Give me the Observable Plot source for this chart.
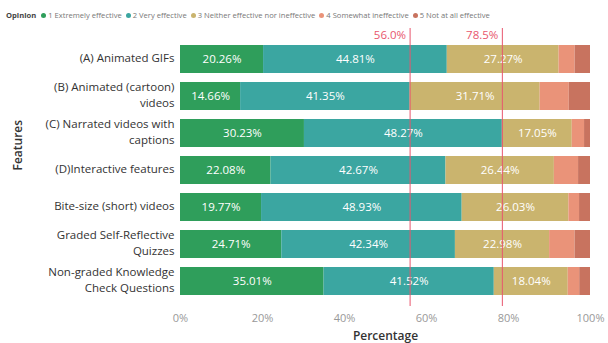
<!DOCTYPE html>
<html>
<head>
<meta charset="utf-8">
<script src="https://cdn.jsdelivr.net/npm/d3@7"></script>
<script src="https://cdn.jsdelivr.net/npm/@observablehq/plot@0.6"></script>
<style>
  body { margin: 0; background: #fff; }
  #wrap { position: relative; width: 608px; height: 343px; font-family: "Open Sans", "Noto Sans", sans-serif; }
  #legend { position: absolute; top: 10px; left: 6px; font-size: 7.6px; color: #777; display: flex; align-items: center; white-space: nowrap; }
  #legend b { color: #444; margin-right: 5px; }
  #legend .item { display: flex; align-items: center; margin-right: 4px; }
  #legend .dot { width: 5px; height: 5px; border-radius: 50%; display: inline-block; margin-right: 2px; }
</style>
</head>
<body>
<div id="wrap"><div id="legend"></div></div>
<script>
const features = [
  "(A) Animated GIFs",
  "(B) Animated (cartoon)\nvideos",
  "(C) Narrated videos with\ncaptions",
  "(D)Interactive features",
  "Bite-size (short) videos",
  "Graded Self-Reflective\nQuizzes",
  "Non-graded Knowledge\nCheck Questions"
];
const opinions = ["1 Extremely effective", "2 Very effective", "3 Neither effective nor ineffective", "4 Somewhat ineffective", "5 Not at all effective"];
const colors = ["#2f9e5b", "#3ba6a1", "#cab46e", "#ea9379", "#c8735f"];
const extremely = [20.26, 14.66, 30.23, 22.08, 19.77, 24.71, 35.01];
const very      = [44.81, 41.35, 48.27, 42.67, 48.93, 42.34, 41.52];
const neither   = [27.27, 31.71, 17.05, 26.44, 26.03, 22.98, 18.04];
const somewhat  = [3.90, 7.10, 3.00, 5.90, 2.60, 6.20, 2.80];
const notAtAll  = [3.76, 5.18, 1.45, 2.91, 2.67, 3.77, 2.63];
const refValues = [56.0, 78.5];
const refLabels = ["56.0%", "78.5%"];
const xTicks = [0, 20, 40, 60, 80, 100];

const series = [extremely, very, neither, somewhat, notAtAll];
const rows = [];
features.forEach((f, i) => {
  series.forEach((s, k) => rows.push({feature: f, opinion: opinions[k], k, value: s[i]}));
});

const legend = document.getElementById("legend");
legend.innerHTML = "<b>Opinion</b>" + opinions.map((o, k) =>
  `<span class="item"><span class="dot" style="background:${colors[k]}"></span>${o}</span>`).join("");

const chart = Plot.plot({
  width: 608,
  height: 343,
  marginLeft: 180,
  marginRight: 18,
  marginTop: 41,
  marginBottom: 44,
  style: {fontFamily: "'Open Sans', 'Noto Sans', sans-serif", background: "transparent"},
  x: {domain: [0, 100]},
  y: {domain: features, paddingInner: 0.24, paddingOuter: 0.1},
  color: {domain: opinions, range: colors},
  marks: [
    Plot.barX(rows, Plot.stackX({x: "value", y: "feature", fill: "opinion", order: opinions})),
    Plot.text(rows.filter(d => d.k < 3), Plot.stackX({x: "value", y: "feature", z: "opinion", order: opinions, text: d => d.value.toFixed(2) + "%", fill: "white", fontSize: 11.5})),
    Plot.ruleX(refValues, {stroke: "#e8566d", strokeWidth: 1, insetTop: -13, insetBottom: -7}),
    Plot.text(refValues, {x: d => d, text: (d, i) => refLabels[i], frameAnchor: "top", lineAnchor: "bottom", textAnchor: "end", dx: -4, dy: -3, fill: "#e8566d", fontSize: 11.5}),
    Plot.axisY({tickSize: 0, tickPadding: 6, dy: -2.5, fontSize: 11.5, lineHeight: 1.4, color: "#333", label: null, textOverflow: null}),
    Plot.axisX({ticks: xTicks, tickSize: 0, tickPadding: 15, tickFormat: d => d + "%", fontSize: 11, color: "#999", label: null}),
    Plot.text(["Percentage"], {frameAnchor: "bottom", dy: 40, fontSize: 12, fill: "#333", fontWeight: 600}),
    Plot.text(["Features"], {frameAnchor: "left", dx: -162, rotate: -90, fontSize: 12, fill: "#333", fontWeight: 600})
  ]
});
document.getElementById("wrap").appendChild(chart);
</script>
</body>
</html>
